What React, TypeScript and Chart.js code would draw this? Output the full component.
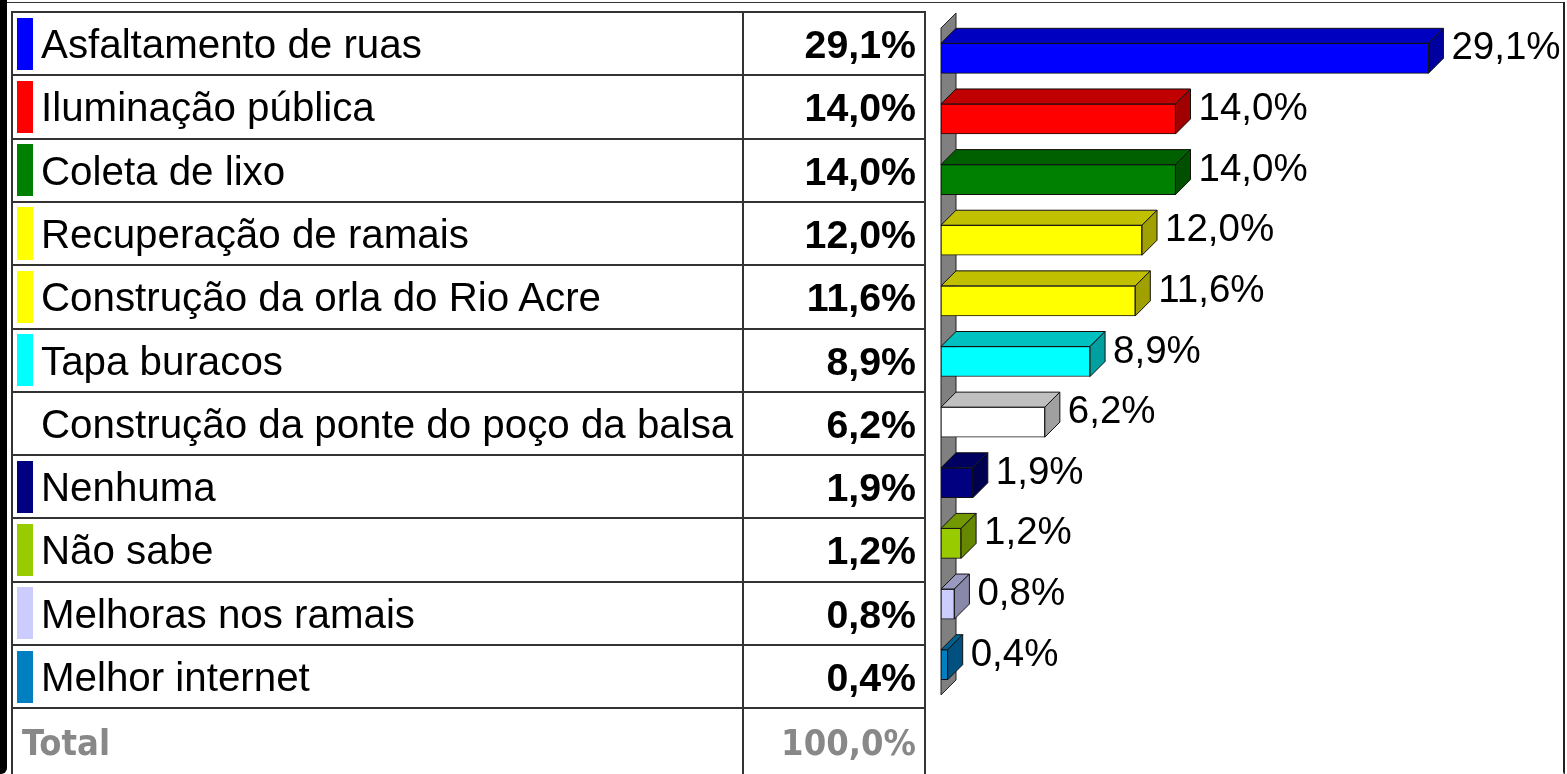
import React, { useEffect, useRef } from "react";
import { Chart, registerables } from "chart.js";

Chart.register(...registerables);

const categories = [
  "Asfaltamento de ruas",
  "Iluminação pública",
  "Coleta de lixo",
  "Recuperação de ramais",
  "Construção da orla do Rio Acre",
  "Tapa buracos",
  "Construção da ponte do poço da balsa",
  "Nenhuma",
  "Não sabe",
  "Melhoras nos ramais",
  "Melhor internet",
];
const values = [29.1, 14.0, 14.0, 12.0, 11.6, 8.9, 6.2, 1.9, 1.2, 0.8, 0.4];
const frontColors = [
  "#0000FF",
  "#FF0000",
  "#008000",
  "#FFFF00",
  "#FFFF00",
  "#00FFFF",
  "#FFFFFF",
  "#000080",
  "#99CC00",
  "#CCCCFF",
  "#0080C0",
];
const topColors = [
  "#0000C0",
  "#C00000",
  "#006000",
  "#C0C000",
  "#C0C000",
  "#00C0C0",
  "#C0C0C0",
  "#000060",
  "#739900",
  "#9999C0",
  "#006090",
];
const sideColors = [
  "#0000A0",
  "#A00000",
  "#005000",
  "#A0A000",
  "#A0A000",
  "#00A0A0",
  "#A0A0A0",
  "#000050",
  "#668800",
  "#8888AA",
  "#005080",
];
const totalLabel = "Total";
const totalValue = "100,0%";
const xMax = 30;

const fmt = (v: number) => v.toFixed(1).replace(".", ",") + "%";

const ARIAL = '"Liberation Sans", Arial, sans-serif';
const DEPTH = 15;

const ROW_TOP = 12;
const ROW_H = 63.3;
const T_LEFT = 12;
const T_DIV = 743;
const T_RIGHT = 925;
const LINE = "#333";

const bar3d = {
  id: "bar3d",
  beforeDatasetsDraw(chart: any) {
    const { ctx, chartArea } = chart;
    const { left, top, bottom } = chartArea;
    ctx.save();
    ctx.beginPath();
    ctx.moveTo(left, top);
    ctx.lineTo(left + DEPTH, top - DEPTH);
    ctx.lineTo(left + DEPTH, bottom - DEPTH);
    ctx.lineTo(left, bottom);
    ctx.closePath();
    ctx.fillStyle = "#808080";
    ctx.fill();
    ctx.strokeStyle = "#222";
    ctx.lineWidth = 1;
    ctx.stroke();
    ctx.restore();
  },
  afterDatasetsDraw(chart: any) {
    const { ctx } = chart;
    const meta = chart.getDatasetMeta(0);
    ctx.save();
    ctx.lineWidth = 1;
    ctx.strokeStyle = "#111";
    meta.data.forEach((el: any, i: number) => {
      const { x, y, base, height } = el.getProps(["x", "y", "base", "height"], true);
      const t = y - height / 2;
      const b = y + height / 2;
      // top face
      ctx.beginPath();
      ctx.moveTo(base, t);
      ctx.lineTo(base + DEPTH, t - DEPTH);
      ctx.lineTo(x + DEPTH, t - DEPTH);
      ctx.lineTo(x, t);
      ctx.closePath();
      ctx.fillStyle = topColors[i];
      ctx.fill();
      ctx.stroke();
      // side face
      ctx.beginPath();
      ctx.moveTo(x, t);
      ctx.lineTo(x + DEPTH, t - DEPTH);
      ctx.lineTo(x + DEPTH, b - DEPTH);
      ctx.lineTo(x, b);
      ctx.closePath();
      ctx.fillStyle = sideColors[i];
      ctx.fill();
      ctx.stroke();
      // label
      ctx.fillStyle = "#000";
      ctx.font = `38.5px ${ARIAL}`;
      ctx.textAlign = "left";
      ctx.textBaseline = "alphabetic";
      ctx.fillText(fmt(values[i]), x + DEPTH + 8, y + 1);
    });
    ctx.restore();
  },
};

function ChartCanvas() {
  const ref = useRef<HTMLCanvasElement | null>(null);
  useEffect(() => {
    if (!ref.current) return;
    const chart = new Chart(ref.current, {
      type: "bar",
      data: {
        labels: categories,
        datasets: [
          {
            data: values,
            backgroundColor: frontColors,
            borderColor: "#111",
            borderWidth: 1,
            borderSkipped: false,
            barThickness: 30,
          },
        ],
      },
      options: {
        indexAxis: "y",
        animation: false,
        responsive: false,
        devicePixelRatio: 1,
        layout: { padding: { left: 941, top: 28, right: 123.5, bottom: 79 } },
        plugins: { legend: { display: false }, tooltip: { enabled: false } },
        scales: {
          x: { display: false, min: 0, max: xMax },
          y: { display: false, offset: true },
        },
      },
      plugins: [bar3d],
    } as any);
    return () => chart.destroy();
  }, []);
  return (
    <canvas
      ref={ref}
      width={1567}
      height={774}
      style={{ position: "absolute", left: 0, top: 0, width: 1567, height: 774 }}
    />
  );
}

export default function App() {
  const rows = categories.map((c, i) => {
    const top = ROW_TOP + i * ROW_H;
    return (
      <React.Fragment key={c}>
        <div
          style={{
            position: "absolute",
            left: 17,
            top: top + 5.5,
            width: 16,
            height: ROW_H - 11,
            background: frontColors[i],
          }}
        />
        <div
          style={{
            position: "absolute",
            left: 41,
            top: top + 1,
            height: ROW_H,
            lineHeight: `${ROW_H}px`,
            fontFamily: ARIAL,
            fontSize: 40.3,
            color: "#000",
            whiteSpace: "nowrap",
          }}
        >
          {c}
        </div>
        <div
          style={{
            position: "absolute",
            left: T_DIV,
            width: 916 - T_DIV,
            top: top + 1,
            height: ROW_H,
            lineHeight: `${ROW_H}px`,
            fontFamily: ARIAL,
            fontWeight: "bold",
            fontSize: 39.3,
            color: "#000",
            textAlign: "right",
            whiteSpace: "nowrap",
          }}
        >
          {fmt(values[i])}
        </div>
      </React.Fragment>
    );
  });
  const totalTop = ROW_TOP + categories.length * ROW_H;
  const hLines = [];
  for (let i = 0; i <= categories.length; i++) {
    hLines.push(
      <div
        key={"h" + i}
        style={{
          position: "absolute",
          left: T_LEFT,
          width: T_RIGHT - T_LEFT + 1,
          top: Math.round(ROW_TOP + i * ROW_H) - 1,
          height: 2,
          background: LINE,
        }}
      />
    );
  }
  const vLines = [T_LEFT, T_DIV, T_RIGHT].map((x) => (
    <div
      key={"v" + x}
      style={{
        position: "absolute",
        left: x - 1,
        width: 2,
        top: ROW_TOP - 1,
        height: 774 - ROW_TOP + 1,
        background: LINE,
      }}
    />
  ));
  const totalFont = '"DejaVu Sans Condensed", "DejaVu Sans", sans-serif';
  return (
    <div
      style={{
        position: "absolute",
        left: 0,
        top: 0,
        width: 1567,
        height: 774,
        background: "#fff",
        overflow: "hidden",
      }}
    >
      <ChartCanvas />
      <div style={{ position: "absolute", left: 0, top: 0, width: 7, height: 774, background: "#000", borderBottomRightRadius: 6 }} />
      <div style={{ position: "absolute", left: 7, top: 2, width: 1557, height: 1, background: "#333" }} />
      <div style={{ position: "absolute", left: 1563, top: 2, width: 2, height: 772, background: "#222", borderBottomLeftRadius: 4 }} />
      {hLines}
      {vLines}
      {rows}
      <div
        style={{
          position: "absolute",
          left: 22,
          top: totalTop + 3,
          height: ROW_H,
          lineHeight: `${ROW_H}px`,
          fontFamily: totalFont,
          fontStretch: "condensed",
          fontWeight: "bold",
          fontSize: 36,
          color: "#888",
          whiteSpace: "nowrap",
        }}
      >
        {totalLabel}
      </div>
      <div
        style={{
          position: "absolute",
          left: T_DIV,
          width: 916 - T_DIV,
          top: totalTop + 3,
          height: ROW_H,
          lineHeight: `${ROW_H}px`,
          fontFamily: totalFont,
          fontStretch: "condensed",
          fontWeight: "bold",
          fontSize: 36,
          color: "#888",
          textAlign: "right",
          whiteSpace: "nowrap",
        }}
      >
        {totalValue}
      </div>
    </div>
  );
}
